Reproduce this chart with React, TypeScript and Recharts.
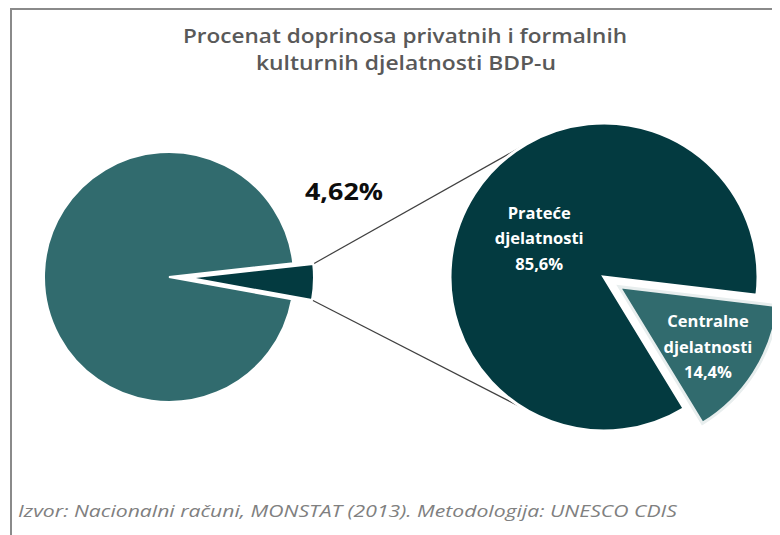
import { PieChart, Pie, Cell, Customized } from "recharts";

// data
const gdpNames = ["Kulturne djelatnosti", "Ostalo"];
const gdpValues = [4.62, 95.38];
const gdpLabels = ["4,62%", ""];

const cultureNames = ["Prateće djelatnosti", "Centralne djelatnosti"];
const cultureValues = [85.6, 14.4];
const cultureLabels = ["85,6%", "14,4%"];

const titleLines = ["Procenat doprinosa privatnih i formalnih", "kulturnih djelatnosti BDP-u"];
const source = "Izvor: Nacionalni računi, MONSTAT (2013). Metodologija: UNESCO CDIS";

const W = 772;
const H = 527;
const TEAL = "#316b6e";
const DARK = "#033a40";
const RAD = Math.PI / 180;

const LEFT = { cx: 161, cy: 269, r: 125, explode: 20 };
const RIGHT = { cx: 596, cy: 269, r: 154, explode: 18 };

const gdpData = gdpNames.map((name, i) => ({ name, value: gdpValues[i], label: gdpLabels[i] }));
const cultureData = cultureNames.map((name, i) => ({ name, value: cultureValues[i], label: cultureLabels[i] }));

const total = (arr: number[]) => arr.reduce((a, b) => a + b, 0);

// small slice centred slightly below 3 o'clock
const smallSpan = (gdpValues[0] / total(gdpValues)) * 360;
const LEFT_START = -2 - smallSpan / 2;
const smallMid = LEFT_START + smallSpan / 2;

// right pie: second slice ends just below 3 o'clock
const RIGHT_START = -6.8;
const bigSpan = (cultureValues[0] / total(cultureValues)) * 360;
const centralMid = RIGHT_START + bigSpan + (360 - bigSpan) / 2;

const leftEx = {
  cx: LEFT.cx + LEFT.explode * Math.cos(smallMid * RAD),
  cy: LEFT.cy - LEFT.explode * Math.sin(smallMid * RAD),
};
const rightEx = {
  cx: RIGHT.cx + RIGHT.explode * Math.cos(centralMid * RAD),
  cy: RIGHT.cy - RIGHT.explode * Math.sin(centralMid * RAD),
};

const polar = (cx: number, cy: number, r: number, a: number) => ({
  x: cx + r * Math.cos(a * RAD),
  y: cy - r * Math.sin(a * RAD),
});

const Connectors = () => {
  const a1 = polar(leftEx.cx, leftEx.cy, LEFT.r, LEFT_START + smallSpan);
  const a2 = polar(leftEx.cx, leftEx.cy, LEFT.r, LEFT_START);
  const b1 = polar(RIGHT.cx, RIGHT.cy, RIGHT.r, 121);
  const b2 = polar(RIGHT.cx, RIGHT.cy, RIGHT.r, -121);
  return (
    <g>
      <line x1={a1.x} y1={a1.y} x2={b1.x} y2={b1.y} stroke="#404040" strokeWidth={1.2} />
      <line x1={a2.x} y1={a2.y} x2={b2.x} y2={b2.y} stroke="#404040" strokeWidth={1.2} />
      <text x={397} y={35} textAnchor="middle" fontFamily="'Open Sans', sans-serif" fontWeight={600} fontSize={20}
        fill="#595959" textLength={444} lengthAdjust="spacingAndGlyphs">
        {titleLines[0]}
      </text>
      <text x={398} y={62} textAnchor="middle" fontFamily="'Open Sans', sans-serif" fontWeight={600} fontSize={20}
        fill="#595959" textLength={300} lengthAdjust="spacingAndGlyphs">
        {titleLines[1]}
      </text>
      <text x={10} y={509} fontFamily="'Open Sans', sans-serif" fontStyle="italic" fontSize={15.5} fill="#808080"
        textLength={659} lengthAdjust="spacingAndGlyphs">
        {source}
      </text>
    </g>
  );
};

const labelFont = { fontFamily: "'Open Sans', sans-serif", fontWeight: 700 };

const smallLabel = (p: any) => {
  if (p.index !== 0) return null;
  return (
    <text x={p.cx + 155} y={p.cy - 78} textAnchor="middle" fontSize={23} fill="#0d0d0d"
      textLength={78} lengthAdjust="spacingAndGlyphs" {...labelFont}>
      {p.payload.label}
    </text>
  );
};

const cultureLabel = (which: number, dist: number) => (p: any) => {
  if (p.index !== which) return null;
  const pt = polar(p.cx, p.cy, p.outerRadius * dist, p.midAngle);
  const words = p.name.split(" ");
  return (
    <text x={pt.x} y={pt.y} textAnchor="middle" fontSize={16.5} fill="#ffffff" {...labelFont}>
      <tspan x={pt.x} dy="-1em">{words[0]}</tspan>
      <tspan x={pt.x} dy="1.55em">{words[1]}</tspan>
      <tspan x={pt.x} dy="1.55em">{p.payload.label}</tspan>
    </text>
  );
};

export default function App() {
  return (
    <div style={{ position: "relative", width: W, height: H, fontFamily: "'Open Sans', sans-serif" }}>
      <div
        style={{
          position: "absolute",
          left: 2,
          top: 0,
          width: W,
          height: H + 8,
          borderTop: "2px solid #8a8a8a",
          borderLeft: "2px solid #8a8a8a",
        }}
      />
      <div style={{ position: "absolute", left: 0, top: 0 }}>
        <PieChart width={W} height={H} margin={{ top: 0, right: 0, bottom: 0, left: 0 }}>
          <Pie
            data={gdpData}
            dataKey="value"
            cx={LEFT.cx}
            cy={LEFT.cy}
            outerRadius={LEFT.r}
            startAngle={LEFT_START}
            endAngle={LEFT_START + 360}
            stroke="#ffffff"
            strokeWidth={2}
            labelLine={false}
            isAnimationActive={false}
          >
            <Cell fill="none" stroke="none" />
            <Cell fill={TEAL} />
          </Pie>
          <Pie
            data={gdpData}
            dataKey="value"
            cx={leftEx.cx}
            cy={leftEx.cy}
            outerRadius={LEFT.r}
            startAngle={LEFT_START}
            endAngle={LEFT_START + 360}
            stroke="#ffffff"
            strokeWidth={2}
            label={smallLabel}
            labelLine={false}
            isAnimationActive={false}
          >
            <Cell fill={DARK} />
            <Cell fill="none" stroke="none" />
          </Pie>
          <Pie
            data={cultureData}
            dataKey="value"
            cx={RIGHT.cx}
            cy={RIGHT.cy}
            outerRadius={RIGHT.r}
            startAngle={RIGHT_START}
            endAngle={RIGHT_START + 360}
            stroke="#ffffff"
            strokeWidth={3}
            label={cultureLabel(0, 0.5)}
            labelLine={false}
            isAnimationActive={false}
          >
            <Cell fill={DARK} />
            <Cell fill="none" stroke="none" />
          </Pie>
          <Pie
            data={cultureData}
            dataKey="value"
            cx={rightEx.cx}
            cy={rightEx.cy}
            outerRadius={RIGHT.r + 6}
            startAngle={RIGHT_START}
            endAngle={RIGHT_START + 360}
            stroke="#e8eeee"
            strokeWidth={3}
            label={cultureLabel(1, 0.66)}
            labelLine={false}
            isAnimationActive={false}
          >
            <Cell fill="none" stroke="none" />
            <Cell fill={TEAL} />
          </Pie>
          <Customized component={Connectors} />
        </PieChart>
      </div>
    </div>
  );
}
